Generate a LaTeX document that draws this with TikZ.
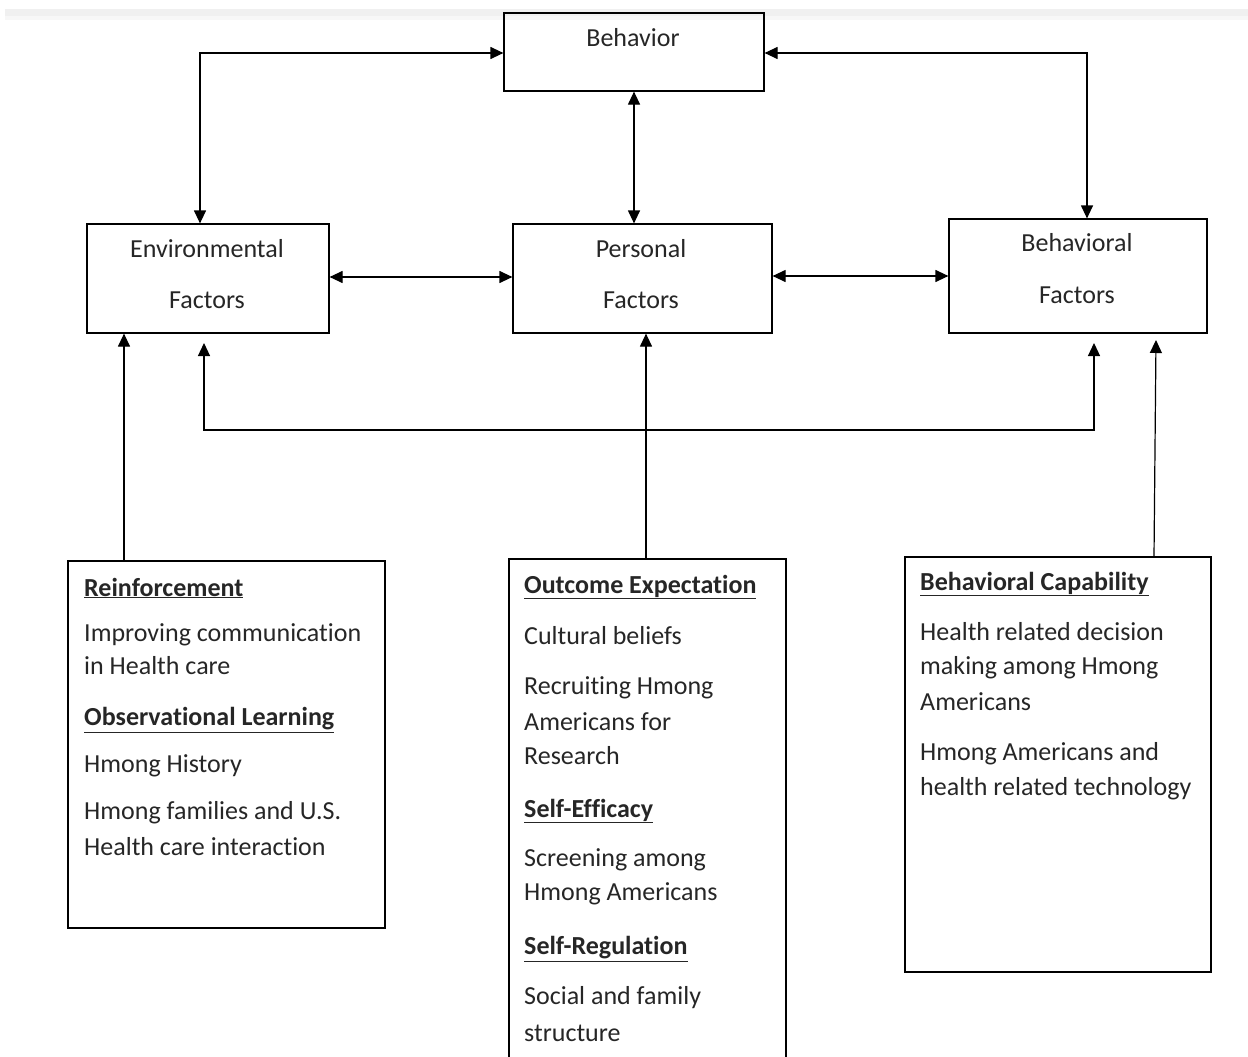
\documentclass[tikz,border=0pt]{standalone}
\usepackage{fontspec}
\setmainfont{Carlito}[Ligatures=NoCommon]
\usetikzlibrary{arrows.meta}
\tikzset{
  box/.style={draw=black, line width=1.2pt, inner sep=0pt, fill=none},
  conn/.style={line width=1.2pt, {Triangle[length=13pt,width=12pt]}-{Triangle[length=13pt,width=12pt]}},
  up/.style={line width=1.2pt, -{Triangle[length=13pt,width=12pt]}},
  lab/.style={inner sep=0pt, text=black!85, font=\fontsize{26}{30}\selectfont},
  txt/.style={inner sep=0pt, anchor=west, text=black!85, font=\fontsize{26}{30}\selectfont},
  head/.style={txt, font=\fontsize{26}{30}\selectfont\bfseries},
}
\newcommand{\hd}[1]{\underline{#1}}
\begin{document}
\begin{tikzpicture}[x=1pt,y=-1pt]
\useasboundingbox (0,0) rectangle (1248,1057);
% faint top band
\fill[black!6] (5,9) rectangle (1248,16);
\fill[black!3] (5,16) rectangle (1248,20);
% top boxes
\node[box, minimum width=260pt, minimum height=78pt] (beh) at (634,52) {};
\node[box, minimum width=242pt, minimum height=109pt] (env) at (208,278.5) {};
\node[box, minimum width=259pt, minimum height=109pt] (per) at (642.5,278.5) {};
\node[box, minimum width=258pt, minimum height=114pt] (bhf) at (1078,276) {};
\node[lab] (tbeh) at (633,38) {Behavior};
\node[lab] (tenv1) at (207,249) {Environmental};
\node[lab] (tenv2) at (207,300) {Factors};
\node[lab] (tper1) at (641,249) {Personal};
\node[lab] (tper2) at (641,300) {Factors};
\node[lab] (tbhf1) at (1077,243) {Behavioral};
\node[lab] (tbhf2) at (1077,295) {Factors};
% bottom boxes
\draw[line width=1.2pt] (68,561) rectangle (385,928);
\coordinate (lbtop) at (124,561);
\draw[line width=1.2pt] (509,1060) -- (509,559) -- (786,559) -- (786,1060);
\coordinate (mbtop) at (646,559);
\draw[line width=1.2pt] (905,557) rectangle (1211,972);
\coordinate (rbtop) at (1154,557);
% left box text
\node[head] (l1) at (84,588) {\hd{Reinforcement}};
\node[txt] (l2) at (84,635) {Improving communication};
\node[txt] (l3) at (84,666) {in Health care};
\node[head] (l4) at (84,720) {\hd{Observational Learning}};
\node[txt] (l5) at (84,766) {Hmong History};
\node[txt] (l6) at (84,813) {Hmong families and U.S.};
\node[txt] (l7) at (84,847) {Health care interaction};
% middle box text
\node[head] (m1) at (524,587) {\hd{Outcome Expectation}};
\node[txt] (m2) at (524,636) {Cultural beliefs};
\node[txt] (m3) at (524,688) {Recruiting Hmong};
\node[txt] (m4) at (524,722) {Americans for};
\node[txt] (m5) at (524,756) {Research};
\node[head] (m6) at (524,811) {\hd{Self-Efficacy}};
\node[txt] (m7) at (524,860) {Screening among};
\node[txt] (m8) at (524,894) {Hmong Americans};
\node[head] (m9) at (524,949) {\hd{Self-Regulation}};
\node[txt] (m10) at (524,998) {Social and family};
\node[txt] (m11) at (524,1033) {structure};
% right box text
\node[head] (r1) at (920,584) {\hd{Behavioral Capability}};
\node[txt] (r2) at (920,632) {Health related decision};
\node[txt] (r3) at (920,668) {making among Hmong};
\node[txt] (r4) at (920,702) {Americans};
\node[txt] (r5) at (920,754) {Hmong Americans and};
\node[txt] (r6) at (920,789) {health related technology};
% connectors
\draw[conn] (beh.west |- 0,53) -| (env.north -| 200,0);
\draw[conn] (beh.east |- 0,53) -| (bhf.north -| 1087,0);
\draw[conn] (beh.south -| 634,0) -- (per.north -| 634,0);
\draw[conn] (env.east |- 0,277) -- (per.west |- 0,277);
\draw[conn] (per.east |- 0,276) -- (bhf.west |- 0,276);
\coordinate (envb) at (204,343);
\coordinate (bhfb) at (1094,343);
\draw[conn] (envb) -- (204,430) -- (1094,430) -- (bhfb);
\draw[up] (lbtop) -- (env.south -| lbtop);
\draw[up] (mbtop) -- (per.south -| mbtop);
\coordinate (rbend) at (1156,340);
\draw[up] (rbtop) -- (rbend);
\end{tikzpicture}
\end{document}
